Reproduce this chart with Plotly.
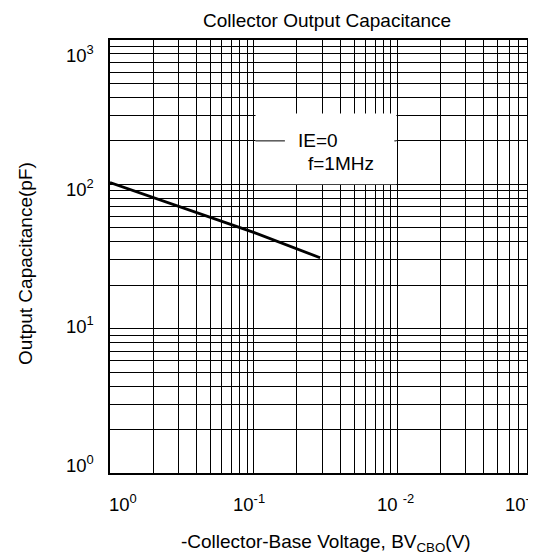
import plotly.graph_objects as go
import math

# ---- data ----
voltage = [1, 10, 29]
capacitance = [103, 46.5, 31]

x_tick_vals = [1, 10, 100, 1000]
x_tick_text = ["10<sup>0</sup>", "10<sup>-1</sup>", "10 <sup>-2</sup>", "10<sup>-3</sup>"]
y_tick_vals = [1, 10, 100, 1000]
y_tick_text = ["10<sup>0</sup>", "10<sup>1</sup>", "10<sup>2</sup>", "10<sup>3</sup>"]

grid_vals = [m * 10 ** d for d in range(3) for m in range(1, 10)] + [1000]

FONT = "Liberation Sans, Arial, sans-serif"
TICK_SIZE = 18.5
TEXT_SIZE = 19

# label offsets (px) as placed in the original drawing
x_label_shift = [-3, -22.5, -22.5, -38.5]
y_label_shift = [9, 4, -4, -13.5]

fig = go.Figure()
fig.add_trace(go.Scatter(x=voltage, y=capacitance, mode="lines",
                         line=dict(color="black", width=2.8), showlegend=False))

fig.update_layout(
    width=536, height=547,
    margin=dict(l=102, r=0.5, t=31.5, b=82.3),
    paper_bgcolor="white", plot_bgcolor="white",
    font=dict(family=FONT, size=TEXT_SIZE, color="black"),
    title=dict(text="Collector Output Capacitance", x=319 / 536, xanchor="center",
               xref="container", yref="container",
               y=1 - 12 / 547, yanchor="middle", font=dict(size=TEXT_SIZE)),
)

fig.update_xaxes(type="log", range=[0, 3], tickvals=grid_vals,
                 showticklabels=False, showgrid=True,
                 gridcolor="black", gridwidth=1, showline=True, linecolor="black",
                 linewidth=2, mirror=True, ticks="", zeroline=False)
fig.update_yaxes(type="log", range=[0, 3], tickvals=grid_vals,
                 showticklabels=False, showgrid=True, gridcolor="black", gridwidth=1,
                 showline=True, linecolor="black", linewidth=2, mirror=True,
                 ticks="", zeroline=False)

# x tick labels (the last one is cut by the page edge, as in the reference)
for v, t, s in zip(x_tick_vals, x_tick_text, x_label_shift):
    fig.add_annotation(x=math.log10(v), y=0, xref="x", yref="paper", text=t,
                       showarrow=False, xanchor="left", yanchor="top",
                       yshift=-16, xshift=s, font=dict(size=TICK_SIZE))

# y tick labels
for v, t, s in zip(y_tick_vals, y_tick_text, y_label_shift):
    fig.add_annotation(x=0, y=math.log10(v), xref="paper", yref="y", text=t,
                       showarrow=False, xanchor="right", yanchor="middle",
                       xshift=-14, yshift=s, font=dict(size=TICK_SIZE))

# axis titles
fig.add_annotation(x=0.5, y=-0.162, xref="paper", yref="paper",
                   text="-Collector-Base Voltage, BV<sub>CBO</sub>(V)",
                   showarrow=False, xanchor="center", yanchor="middle",
                   font=dict(size=TEXT_SIZE))
fig.add_annotation(x=-0.196, y=0.484, xref="paper", yref="paper",
                   text="Output Capacitance(pF)", textangle=-90,
                   showarrow=False, xanchor="center", yanchor="middle",
                   font=dict(size=TEXT_SIZE))

# note box
fig.add_shape(type="rect", xref="x", yref="y", x0=10.3, x1=98.5, y0=100, y1=310,
              fillcolor="white", line=dict(width=0), layer="above")
fig.add_shape(type="line", xref="x", yref="y", x0=10.3, x1=16.5, y0=200, y1=200,
              line=dict(color="black", width=1), layer="above")
fig.add_shape(type="line", xref="x", yref="y", x0=95.3, x1=98.5, y0=200, y1=200,
              line=dict(color="black", width=1), layer="above")
fig.add_annotation(x=math.log10(19.7), y=math.log10(201), xref="x", yref="y",
                   text="IE=0", showarrow=False, xanchor="left", yanchor="middle",
                   font=dict(size=TEXT_SIZE))
fig.add_annotation(x=math.log10(23.0), y=math.log10(139), xref="x", yref="y",
                   text="f=1MHz", showarrow=False, xanchor="left", yanchor="middle",
                   font=dict(size=TEXT_SIZE))

fig.write_html("out.html")
